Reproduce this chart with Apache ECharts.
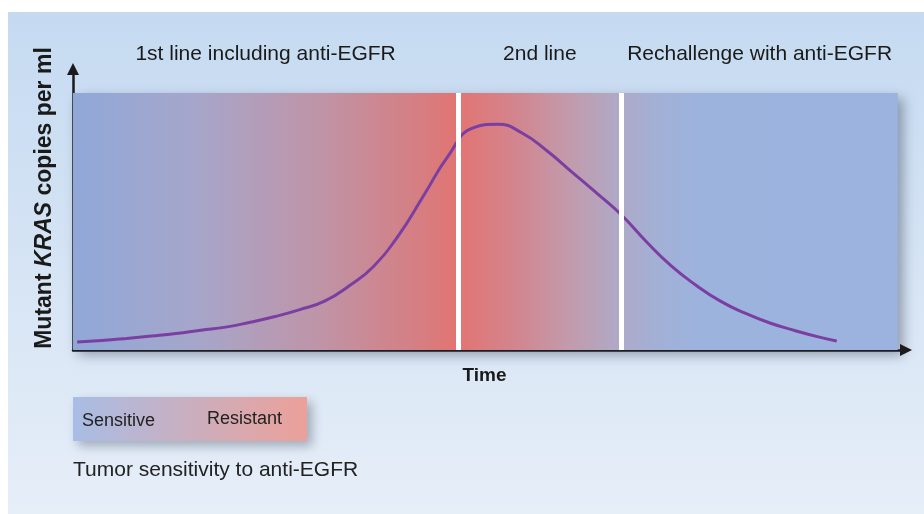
<!DOCTYPE html>
<html>
<head>
<meta charset="utf-8">
<script src="https://cdn.jsdelivr.net/npm/echarts@6/dist/echarts.min.js"></script>
<style>html,body{margin:0;padding:0;background:#fff;}#c{width:924px;height:514px;}</style>
</head>
<body>
<div id="c"></div>
<script>
// ---- data ----
const timePoints = [0.5, 3.5, 6.5, 9.5, 12.5, 15.5, 18.5, 21.5, 24.5, 27.5, 30.5, 33.5, 36.5, 39.5, 42.5, 45.5, 48.5, 51.5, 54.5, 57.5, 60.5, 63.5, 66.5, 69.5, 72.5, 75.5, 78.5, 81.5, 84.5, 87.5, 90.5, 92.6];
const krasCopies = [3.1, 3.7, 4.5, 5.4, 6.4, 7.7, 8.9, 10.8, 13, 15.7, 19.0, 25.0, 32.7, 44.7, 60, 75.5, 86.4, 87.8, 84.3, 77.4, 69.2, 61, 52.5, 42.2, 32.8, 25.3, 19, 14.3, 10.5, 7.6, 5, 3.5];
const phaseNames = ['1st line including anti-EGFR', '2nd line', 'Rechallenge with anti-EGFR'];
const phaseBounds = [0, 46.7, 66.5, 100];
const plotRange = { xMin: 0, xMax: 100, yMin: 0, yMax: 100 };
const axisName = { y: ['Mutant ', 'KRAS', ' copies per ml'], x: 'Time' };
const legendLabels = ['Sensitive', 'Resistant'];
const legendCaption = 'Tumor sensitivity to anti-EGFR';

const FONT = 'Liberation Sans, Arial, sans-serif';
const chart = echarts.init(document.getElementById('c'), null, { renderer: 'canvas' });

const curve = timePoints.map((t, i) => [t, krasCopies[i]]);

const rectGradient = new echarts.graphic.LinearGradient(0, 0, 1, 0, [
  { offset: 0, color: '#90a8d8' },
  { offset: 0.15, color: '#a6a6ca' },
  { offset: 0.3, color: '#bf94a7' },
  { offset: 0.42, color: '#d67e82' },
  { offset: 0.465, color: '#e27472' },
  { offset: 0.53, color: '#d4838b' },
  { offset: 0.6, color: '#c39aab' },
  { offset: 0.665, color: '#aeaac8' },
  { offset: 0.71, color: '#a2b0d6' },
  { offset: 0.76, color: '#9cb3de' },
  { offset: 1, color: '#9bb3de' }
]);

const phaseAreas = phaseNames.map((name, i) => [
  { name: name, xAxis: phaseBounds[i], yAxis: plotRange.yMin },
  { xAxis: phaseBounds[i + 1], yAxis: plotRange.yMax }
]);

const boundaryLines = phaseBounds.slice(1, -1).map(b => [
  { coord: [b, plotRange.yMin] },
  { coord: [b, plotRange.yMax] }
]);

const option = {
  animation: false,
  graphic: [
    {
      type: 'rect', z: -10, silent: true,
      shape: { x: 8, y: 12, width: 916, height: 502 },
      style: { fill: new echarts.graphic.LinearGradient(0, 0, 0, 1, [
        { offset: 0, color: '#c5daf1' },
        { offset: 1, color: '#e6eef8' }
      ]) }
    },
    {
      type: 'rect', z: 5, silent: true,
      shape: { x: 73, y: 397, width: 234, height: 44 },
      style: {
        fill: new echarts.graphic.LinearGradient(0, 0, 1, 0, [
          { offset: 0, color: '#a8bde5' },
          { offset: 1, color: '#eca099' }
        ]),
        shadowBlur: 10, shadowOffsetX: 5, shadowOffsetY: 5, shadowColor: 'rgba(40,50,70,0.35)'
      }
    },
    {
      type: 'text', z: 6, silent: true, x: 82, y: 421,
      style: { text: legendLabels[0], font: '18px ' + FONT, fill: '#222', verticalAlign: 'middle' }
    },
    {
      type: 'text', z: 6, silent: true, x: 207, y: 419,
      style: { text: legendLabels[1], font: '18px ' + FONT, fill: '#222', verticalAlign: 'middle' }
    },
    {
      type: 'text', z: 6, silent: true, x: 73, y: 470,
      style: { text: legendCaption, font: '21px ' + FONT, fill: '#222', verticalAlign: 'middle' }
    }
  ],
  grid: { left: 73, right: 18, top: 69, bottom: 164 },
  xAxis: {
    type: 'value', min: 0, max: 101,
    name: axisName.x, nameLocation: 'middle', nameGap: 16,
    nameTextStyle: { fontFamily: FONT, fontSize: 19, fontWeight: 'bold', color: '#1a1a1a', padding: [0, 10, 0, 0], verticalAlign: 'top' },
    axisLine: { show: true, symbol: ['none', 'triangle'], symbolSize: [12, 12], lineStyle: { color: '#1a1a1a', width: 2.5 } },
    axisTick: { show: false }, axisLabel: { show: false }, splitLine: { show: false }
  },
  yAxis: {
    type: 'value', min: 0, max: 109.3,
    name: '{b|' + axisName.y[0] + '}{i|' + axisName.y[1] + '}{b|' + axisName.y[2] + '}',
    nameLocation: 'middle', nameGap: 17,
    nameTextStyle: {
      padding: [0, 0, 0, 23],
      rich: {
        b: { fontFamily: FONT, fontSize: 23, fontWeight: 'bold', color: '#1a1a1a' },
        i: { fontFamily: FONT, fontSize: 23, fontWeight: 'bold', fontStyle: 'italic', color: '#1a1a1a' }
      }
    },
    axisLine: { show: true, symbol: ['none', 'triangle'], symbolSize: [12, 12], lineStyle: { color: '#1a1a1a', width: 2.5 } },
    axisTick: { show: false }, axisLabel: { show: false }, splitLine: { show: false }
  },
  series: [
    {
      type: 'line', data: [], z: 1, silent: true,
      markArea: {
        silent: true,
        data: [[
          { xAxis: plotRange.xMin, yAxis: plotRange.yMin, itemStyle: { color: rectGradient, shadowBlur: 12, shadowOffsetX: 5, shadowOffsetY: 5, shadowColor: 'rgba(30,40,60,0.4)' } },
          { xAxis: plotRange.xMax, yAxis: plotRange.yMax }
        ]],
        label: { show: false }
      }
    },
    {
      type: 'line', data: [], z: 2, silent: true,
      markArea: {
        silent: true,
        itemStyle: { color: 'rgba(0,0,0,0)' },
        label: { show: true, position: 'top', distance: 28, fontFamily: FONT, fontSize: 21, color: '#1a1a1a' },
        data: phaseAreas
      },
      markLine: {
        silent: true, symbol: 'none',
        label: { show: false },
        lineStyle: { color: '#ffffff', width: 5, type: 'solid' },
        data: boundaryLines
      }
    },
    {
      type: 'line', data: curve, z: 3, smooth: 0.5, symbol: 'none', silent: true,
      lineStyle: { color: '#7b3fa2', width: 3 }
    }
  ]
};
chart.setOption(option);
</script>
</body>
</html>
